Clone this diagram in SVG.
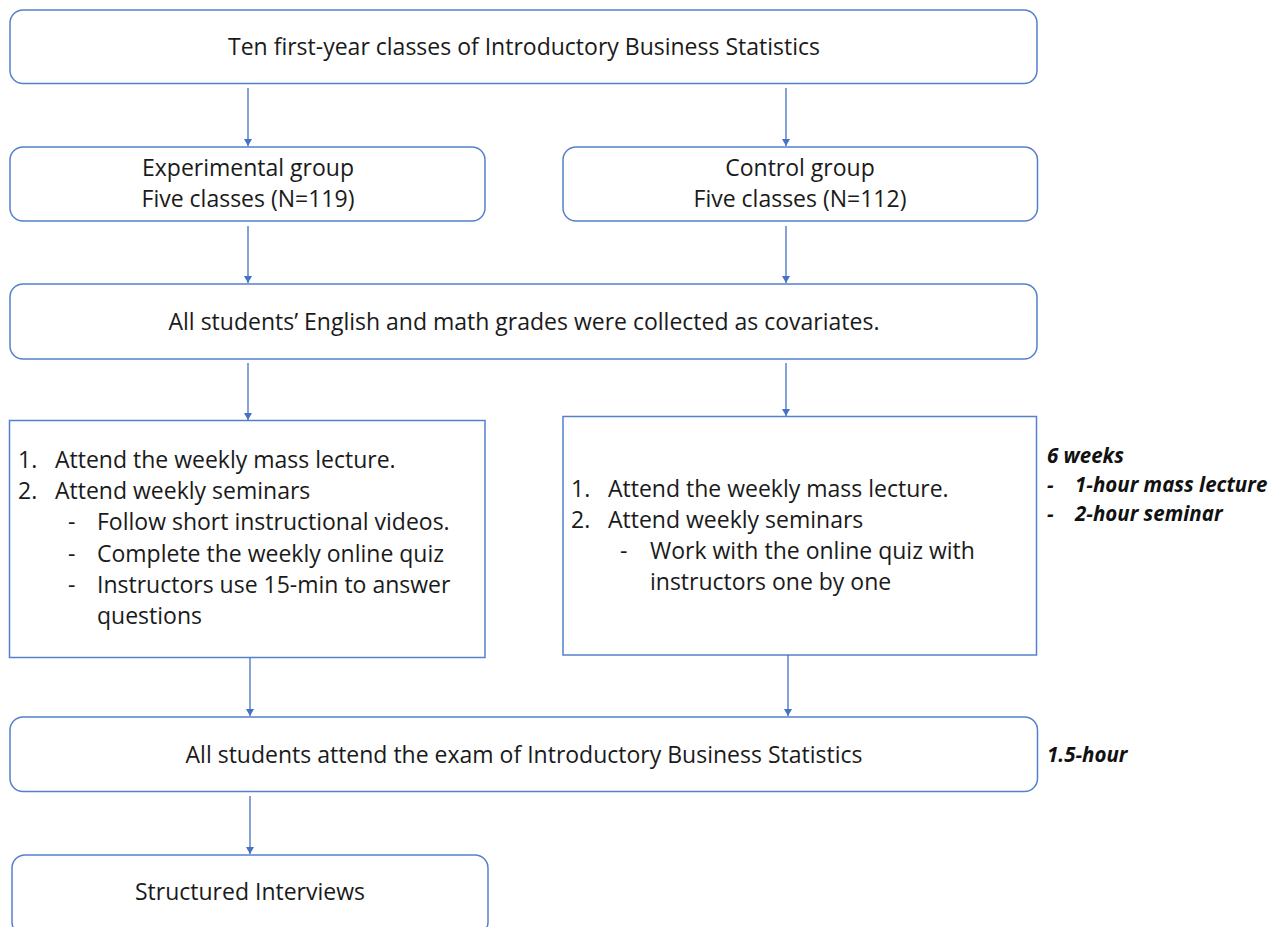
<svg xmlns="http://www.w3.org/2000/svg" width="1282" height="927" viewBox="0 0 1282 927">
  <defs>
    <style>
      .box { fill: #ffffff; stroke: #5580cc; stroke-width: 1.5; }
      .t { font-family: "Open Sans", "Liberation Sans", sans-serif; font-size: 23px; fill: #1a1a1a; }
      .c { text-anchor: middle; }
      .s { font-family: "Open Sans", "Liberation Sans", sans-serif; font-size: 20.5px; font-weight: bold; font-style: italic; fill: #111111; }
      .conn line { stroke: #4472c4; stroke-width: 1.3; marker-end: url(#ah); }
    </style>
    <marker id="ah" markerUnits="userSpaceOnUse" markerWidth="7" markerHeight="8" viewBox="0 0 7 8" refX="7" refY="4" orient="auto">
      <path d="M0,0 L7,4 L0,8 Z" fill="#4472c4"/>
    </marker>
  </defs>
  <rect width="1282" height="927" fill="#ffffff"/>

  <g id="n-top">
    <rect class="box" x="10" y="10" width="1027" height="73.5" rx="13"/>
    <text class="t c" x="524" y="55">Ten first-year classes of Introductory Business Statistics</text>
  </g>

  <g id="n-exp">
    <rect class="box" x="10" y="147" width="475" height="74" rx="13"/>
    <text class="t c" x="248" y="176">Experimental group</text>
    <text class="t c" x="248" y="207">Five classes (N=119)</text>
  </g>

  <g id="n-ctrl">
    <rect class="box" x="563" y="147" width="474.5" height="74" rx="13"/>
    <text class="t c" x="800" y="176">Control group</text>
    <text class="t c" x="800" y="207">Five classes (N=112)</text>
  </g>

  <g id="n-cov">
    <rect class="box" x="10" y="284" width="1027" height="75" rx="13"/>
    <text class="t c" x="524" y="330">All students’ English and math grades were collected as covariates.</text>
  </g>

  <g id="n-exp-proc">
    <rect class="box" x="9.5" y="420.5" width="475.5" height="237"/>
    <text class="t" x="18" y="468">1.</text>
    <text class="t" x="55" y="468">Attend the weekly mass lecture.</text>
    <text class="t" x="18" y="499">2.</text>
    <text class="t" x="55" y="499">Attend weekly seminars</text>
    <text class="t" x="68" y="530">-</text>
    <text class="t" x="97" y="530">Follow short instructional videos.</text>
    <text class="t" x="68" y="562">-</text>
    <text class="t" x="97" y="562">Complete the weekly online quiz</text>
    <text class="t" x="68" y="593">-</text>
    <text class="t" x="97" y="593">Instructors use 15-min to answer</text>
    <text class="t" x="97" y="624">questions</text>
  </g>

  <g id="n-ctrl-proc">
    <rect class="box" x="563" y="416.5" width="473.5" height="238.5"/>
    <text class="t" x="571" y="497">1.</text>
    <text class="t" x="608" y="497">Attend the weekly mass lecture.</text>
    <text class="t" x="571" y="528">2.</text>
    <text class="t" x="608" y="528">Attend weekly seminars</text>
    <text class="t" x="620" y="559">-</text>
    <text class="t" x="650" y="559">Work with the online quiz with</text>
    <text class="t" x="650" y="590">instructors one by one</text>
  </g>

  <g id="n-weeks">
    <text class="s" x="1047" y="463">6 weeks</text>
    <text class="s" x="1047" y="492">-</text>
    <text class="s" x="1075" y="492">1-hour mass lecture</text>
    <text class="s" x="1047" y="521">-</text>
    <text class="s" x="1075" y="521">2-hour seminar</text>
  </g>

  <g id="n-exam">
    <rect class="box" x="10" y="717" width="1027.5" height="74.5" rx="13"/>
    <text class="t c" x="524" y="763">All students attend the exam of Introductory Business Statistics</text>
  </g>

  <g id="n-hour">
    <text class="s" x="1047" y="762">1.5-hour</text>
  </g>

  <g id="n-interview">
    <rect class="box" x="12" y="855" width="476" height="80" rx="13"/>
    <text class="t c" x="250" y="900">Structured Interviews</text>
  </g>

  <g id="connectors" class="conn">
    <line x1="248" y1="88" x2="248" y2="146"/>
    <line x1="786" y1="88" x2="786" y2="146"/>
    <line x1="248" y1="226" x2="248" y2="283"/>
    <line x1="786" y1="226" x2="786" y2="283"/>
    <line x1="248" y1="363" x2="248" y2="420"/>
    <line x1="786" y1="363" x2="786" y2="416"/>
    <line x1="250" y1="658" x2="250" y2="716"/>
    <line x1="788" y1="655" x2="788" y2="716"/>
    <line x1="250" y1="796" x2="250" y2="854"/>
  </g>
</svg>
